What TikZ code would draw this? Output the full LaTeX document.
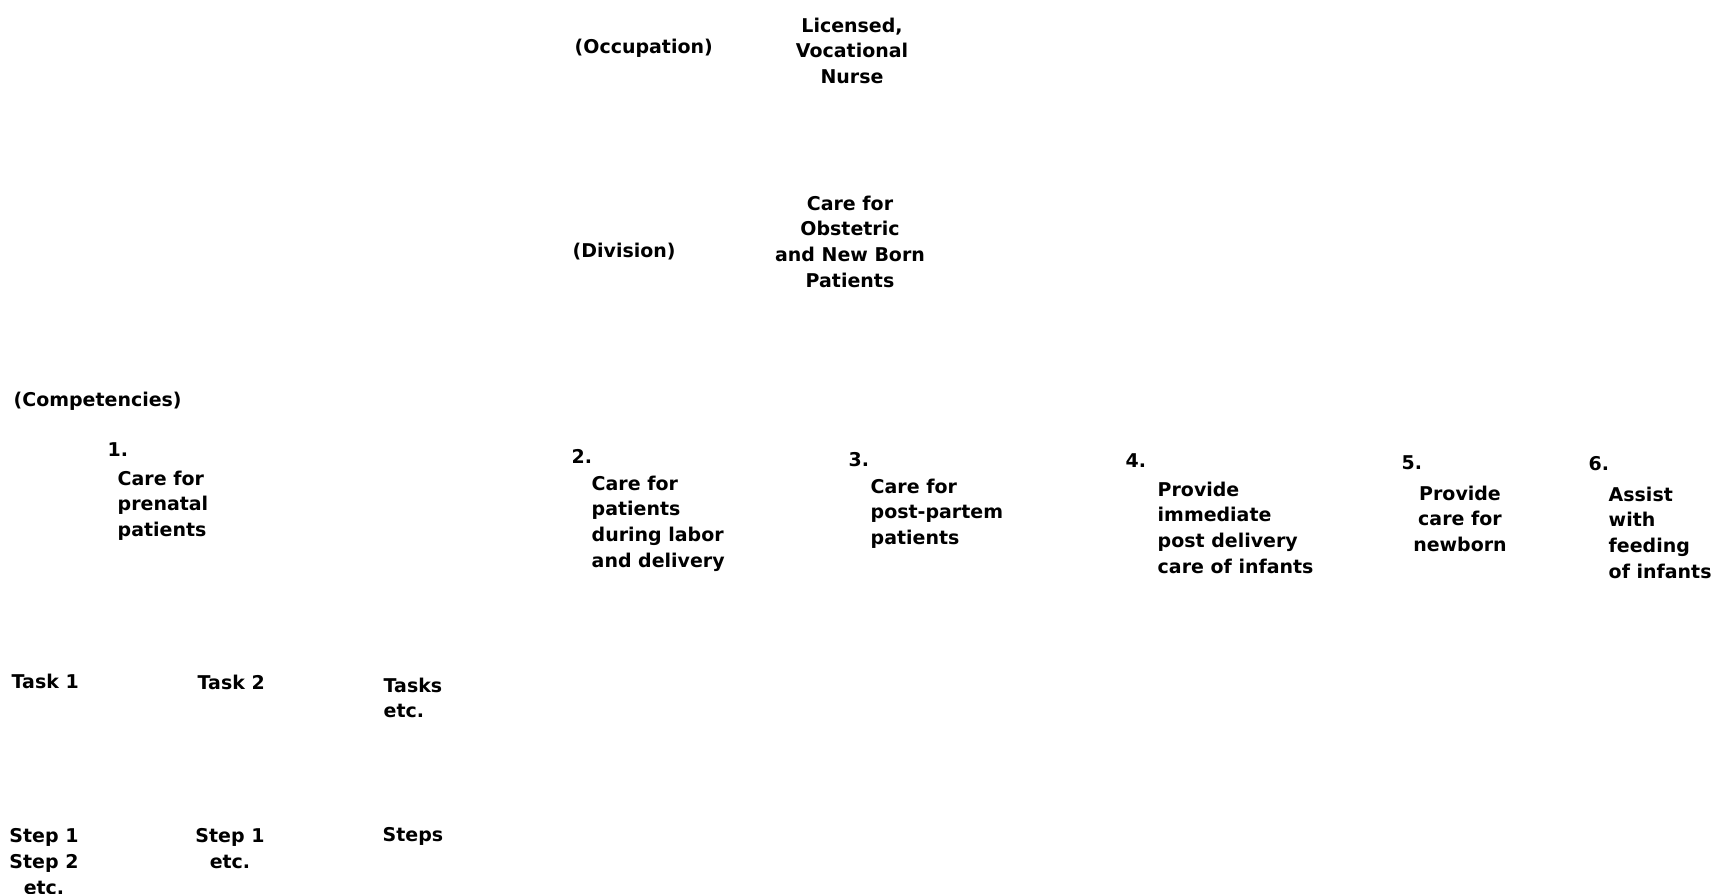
\documentclass[tikz,border=0pt]{standalone}
\usepackage{fontspec}
\setmainfont{DejaVu Sans}
\usepackage{tikz}
\usetikzlibrary{positioning}

\begin{document}
\begin{tikzpicture}[
  x=0.1mm, y=-0.1mm,
  lbl/.style={inner sep=0pt, align=left, font=\fontsize{5.4}{7.3}\selectfont\bfseries},
  ctr/.style={inner sep=0pt, align=center, font=\fontsize{5.4}{7.3}\selectfont\bfseries},
  numlbl/.style={lbl, anchor=west}
]
\useasboundingbox (0,0) rectangle (1713,894);

% occupation and division
\node[lbl, anchor=west] (occ) at (574,48) {(Occupation)};
\node[ctr, anchor=north] (lvn) at (852,17) {Licensed,\\Vocational\\Nurse};
\node[lbl, anchor=west] (div) at (572,252) {(Division)};
\node[ctr, anchor=north] (obst) at (850,195) {Care for\\Obstetric\\and New Born\\Patients};

% competencies
\node[lbl, anchor=west] (comp) at (13,401) {(Competencies)};
\node[numlbl] (c1num) at (107,450) {1.};
\node[lbl, anchor=north west] (c1) at (117,470) {Care for\\prenatal\\patients};
\node[numlbl] (c2num) at (571,456) {2.};
\node[lbl, anchor=north west] (c2) at (591,475) {Care for\\patients\\during labor\\and delivery};
\node[numlbl] (c3num) at (848,460) {3.};
\node[lbl, anchor=north west] (c3) at (870,478) {Care for\\post-partem\\patients};
\node[numlbl] (c4num) at (1125,461) {4.};
\node[lbl, anchor=north west] (c4) at (1157,481) {Provide\\immediate\\post delivery\\care of infants};
\node[numlbl] (c5num) at (1401,463) {5.};
\node[ctr, anchor=north] (c5) at (1460,485) {Provide\\care for\\newborn};
\node[numlbl] (c6num) at (1588,464) {6.};
\node[lbl, anchor=north west] (c6) at (1608,486) {Assist\\with\\feeding\\of infants};

% tasks
\node[lbl, anchor=west] (task1) at (11,681) {Task 1};
\node[lbl, anchor=west] (task2) at (197,682) {Task 2};
\node[lbl, anchor=north west] (tasks) at (383,677) {Tasks\\etc.};

% steps
\node[ctr, anchor=north] (steps1) at (44,828) {Step 1\\Step 2\\etc.};
\node[ctr, anchor=north] (steps2) at (230,828) {Step 1\\etc.};
\node[lbl, anchor=west] (steps) at (382,836) {Steps};
\end{tikzpicture}
\end{document}
